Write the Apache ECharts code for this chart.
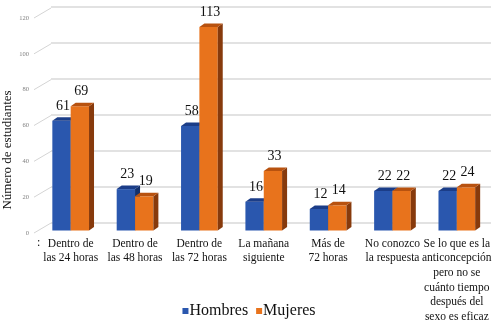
<!DOCTYPE html>
<html>
<head>
<meta charset="utf-8">
<script src="https://cdn.jsdelivr.net/npm/echarts@6/dist/echarts.min.js"></script>
<style>
  html, body { margin: 0; padding: 0; background: #fff; }
  #chart { width: 498px; height: 326px; }
</style>
</head>
<body>
<div id="chart"></div>
<script>
const categories = [
  'Dentro de\nlas 24 horas',
  'Dentro de\nlas 48 horas',
  'Dentro de\nlas 72 horas',
  'La mañana\nsiguiente',
  'Más de\n72 horas',
  'No conozco\nla respuesta',
  'Se lo que es la\nanticoncepción\npero no se\ncuánto tiempo\ndespués del\nsexo es eficaz'
]
const hombres = [61, 23, 58, 16, 12, 22, 22]
const mujeres = [69, 19, 113, 33, 14, 22, 24]
const yTicks = [0, 20, 40, 60, 80, 100, 120]

const serif = '"Liberation Serif", "DejaVu Serif", serif'

// cara frontal, superior y lateral de cada barra 3D
const barRenderer = (side, colors) => (params, api) => {
  const cat = api.value(0)
  const val = api.value(1)
  const base = api.coord([cat, 0])
  const top = api.coord([cat, val])
  const band = api.size([1, 0])[0]
  const w = band * 0.285
  const dx = 5, dy = 3.5
  const x0 = side === 0 ? base[0] - w : base[0]
  const yT = top[1], yB = base[1]
  return {
    type: 'group',
    children: [
      { type: 'rect', shape: { x: x0, y: yT, width: w, height: yB - yT }, style: { fill: colors.front } },
      {
        type: 'polygon',
        shape: { points: [[x0 + w, yT], [x0 + w + dx, yT - dy], [x0 + w + dx, yB - dy], [x0 + w, yB]] },
        style: { fill: colors.side }
      },
      {
        type: 'polygon',
        shape: { points: [[x0, yT], [x0 + dx, yT - dy], [x0 + w + dx, yT - dy], [x0 + w, yT]] },
        style: { fill: colors.top }
      },
      {
        type: 'text',
        style: {
          text: String(val), x: x0 + w / 2 + dx / 2 - 1, y: yT - dy - 4,
          align: 'center', verticalAlign: 'bottom',
          font: '14px ' + serif, fill: '#111'
        }
      }
    ]
  }
}

const blue = { front: '#2a57ae', top: '#1b3d88', side: '#13306c' }
const orange = { front: '#e8731c', top: '#b8520f', side: '#873a0c' }

const chart = echarts.init(document.getElementById('chart'))
chart.setOption({
  animation: false,
  grid: [
    { left: 38.5, right: 9, top: 14.5, bottom: 95.5 },   // barras (plano frontal)
    { left: 51, right: 7, top: 6.5, bottom: 103 },       // pared del fondo
    { left: 34, right: 440, top: 18, bottom: 93 }        // etiquetas del eje Y
  ],
  legend: {
    data: ['Hombres', 'Mujeres'],
    left: 'center', top: 298,
    icon: 'rect', itemWidth: 6, itemHeight: 6, itemGap: 8,
    textStyle: { fontFamily: serif, fontSize: 16, color: '#111', padding: [0, 0, 0, -4] }
  },
  xAxis: [
    {
      type: 'category', gridIndex: 0, data: categories,
      axisLine: { show: false }, axisTick: { show: false },
      axisLabel: { interval: 0, margin: 6, fontFamily: serif, fontSize: 11.5, lineHeight: 14.6, color: '#111' }
    },
    { type: 'value', gridIndex: 1, show: false },
    { type: 'value', gridIndex: 2, show: false, min: 0, max: 1 }
  ],
  yAxis: [
    { type: 'value', gridIndex: 0, min: 0, max: 120, show: false },
    {
      type: 'value', gridIndex: 1, min: 0, max: 120, interval: 20,
      axisLabel: { show: false }, axisLine: { show: false }, axisTick: { show: false },
      splitLine: { lineStyle: { color: '#d9d9d9', width: 1.5 } }
    },
    {
      type: 'value', gridIndex: 2, min: 0, max: 120, interval: 20,
      axisLine: { show: false }, axisTick: { show: false }, splitLine: { show: false },
      axisLabel: { margin: 5, fontSize: 6.5, color: '#7f7f7f', fontFamily: serif }
    }
  ],
  graphic: [
    { type: 'text', left: 37, top: 237, style: { text: ':', font: '12px ' + serif, fill: '#111' } },
    {
      type: 'text', x: 8, y: 150, rotation: Math.PI / 2,
      style: {
        text: 'Número de estudiantes', font: '13px ' + serif, fill: '#111',
        align: 'center', verticalAlign: 'middle'
      }
    }
  ],
  series: [
    {
      type: 'custom', name: 'diagonales', xAxisIndex: 2, yAxisIndex: 2, silent: true,
      data: yTicks.map((t) => [0, t]),
      renderItem: (params, api) => {
        const p = api.coord([0, api.value(1)])
        return {
          type: 'line',
          shape: { x1: p[0], y1: p[1], x2: p[0] + 17, y2: p[1] - 10 },
          style: { stroke: '#d4d4d4', lineWidth: 1 }
        }
      }
    },
    {
      type: 'custom', name: 'Hombres', xAxisIndex: 0, yAxisIndex: 0,
      itemStyle: { color: '#2a57ae' },
      data: hombres.map((v, i) => [i, v]),
      renderItem: barRenderer(0, blue)
    },
    {
      type: 'custom', name: 'Mujeres', xAxisIndex: 0, yAxisIndex: 0,
      itemStyle: { color: '#e8731c' },
      data: mujeres.map((v, i) => [i, v]),
      renderItem: barRenderer(1, orange)
    }
  ]
})
</script>
</body>
</html>
